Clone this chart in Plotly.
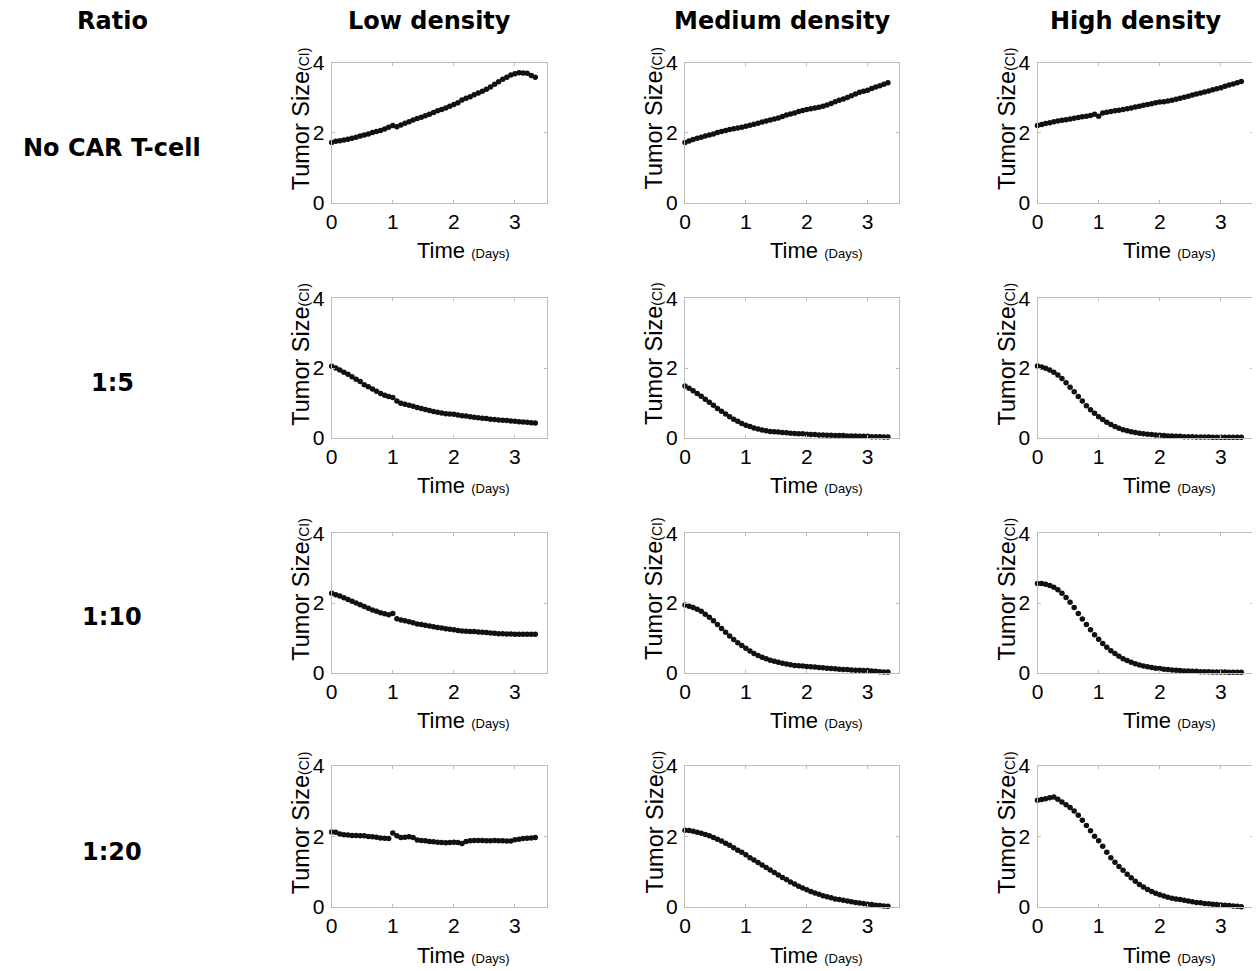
import plotly.graph_objects as go

# sampling times (days)
TIME_DAYS = [0.0, 0.067, 0.133, 0.2, 0.267, 0.333, 0.4, 0.467, 0.533, 0.6,
             0.667, 0.733, 0.8, 0.867, 0.933, 1.0, 1.067, 1.133, 1.2, 1.267,
             1.333, 1.4, 1.467, 1.533, 1.6, 1.667, 1.733, 1.8, 1.867, 1.933,
             2.0, 2.067, 2.133, 2.2, 2.267, 2.333, 2.4, 2.467, 2.533, 2.6,
             2.667, 2.733, 2.8, 2.867, 2.933, 3.0, 3.067, 3.133, 3.2, 3.267, 3.333]

DENSITIES = ["Low density", "Medium density", "High density"]
RATIOS = ["No CAR T-cell", "1:5", "1:10", "1:20"]

# tumor size (CI) per ratio / density
NO_CAR_LOW = [1.72, 1.75, 1.77, 1.79, 1.81, 1.84, 1.87, 1.90, 1.93, 1.96,
              2.00, 2.03, 2.06, 2.10, 2.15, 2.20, 2.17, 2.22, 2.27, 2.31,
              2.36, 2.40, 2.44, 2.48, 2.52, 2.57, 2.62, 2.66, 2.70, 2.75,
              2.80, 2.85, 2.93, 2.98, 3.02, 3.08, 3.13, 3.18, 3.24, 3.30,
              3.38, 3.45, 3.52, 3.58, 3.64, 3.68, 3.71, 3.70, 3.69, 3.63, 3.58]
NO_CAR_MED = [1.72, 1.76, 1.80, 1.84, 1.87, 1.90, 1.93, 1.96, 2.00, 2.03,
              2.06, 2.09, 2.11, 2.13, 2.15, 2.18, 2.21, 2.24, 2.27, 2.30,
              2.33, 2.36, 2.39, 2.42, 2.46, 2.50, 2.53, 2.56, 2.60, 2.63,
              2.66, 2.68, 2.70, 2.72, 2.75, 2.79, 2.83, 2.88, 2.92, 2.96,
              3.00, 3.05, 3.10, 3.15, 3.18, 3.21, 3.26, 3.30, 3.34, 3.38, 3.42]
NO_CAR_HIGH = [2.20, 2.23, 2.26, 2.28, 2.31, 2.33, 2.35, 2.37, 2.39, 2.41,
               2.43, 2.45, 2.47, 2.49, 2.52, 2.47, 2.56, 2.58, 2.60, 2.62,
               2.64, 2.66, 2.68, 2.70, 2.73, 2.75, 2.78, 2.80, 2.82, 2.85,
               2.87, 2.88, 2.90, 2.92, 2.95, 2.98, 3.01, 3.04, 3.07, 3.10,
               3.13, 3.16, 3.19, 3.22, 3.25, 3.28, 3.32, 3.36, 3.39, 3.42, 3.46]

R5_LOW = [2.05, 2.00, 1.94, 1.88, 1.82, 1.75, 1.68, 1.61, 1.52, 1.46,
          1.40, 1.33, 1.27, 1.22, 1.18, 1.15, 1.05, 0.99, 0.96, 0.93,
          0.90, 0.87, 0.84, 0.81, 0.78, 0.75, 0.73, 0.71, 0.69, 0.68,
          0.67, 0.65, 0.63, 0.62, 0.60, 0.59, 0.57, 0.56, 0.55, 0.53,
          0.52, 0.51, 0.50, 0.49, 0.48, 0.47, 0.46, 0.45, 0.44, 0.43, 0.42]
R5_MED = [1.48, 1.42, 1.35, 1.27, 1.19, 1.10, 1.02, 0.93, 0.84, 0.76,
          0.68, 0.60, 0.53, 0.47, 0.41, 0.36, 0.32, 0.28, 0.25, 0.22,
          0.20, 0.18, 0.17, 0.16, 0.15, 0.14, 0.13, 0.12, 0.11, 0.11,
          0.10, 0.09, 0.09, 0.08, 0.08, 0.07, 0.07, 0.06, 0.06, 0.06,
          0.05, 0.05, 0.05, 0.04, 0.04, 0.04, 0.03, 0.03, 0.03, 0.02, 0.02]
R5_HIGH = [2.06, 2.03, 1.99, 1.94, 1.88, 1.80, 1.70, 1.58, 1.45, 1.32,
           1.18, 1.05, 0.92, 0.80, 0.70, 0.60, 0.52, 0.44, 0.38, 0.32,
           0.27, 0.23, 0.20, 0.17, 0.15, 0.13, 0.11, 0.10, 0.09, 0.08,
           0.07, 0.06, 0.05, 0.05, 0.04, 0.04, 0.03, 0.03, 0.03, 0.02,
           0.02, 0.02, 0.02, 0.01, 0.01, 0.01, 0.01, 0.01, 0.01, 0.01, 0.01]

R10_LOW = [2.28, 2.24, 2.20, 2.15, 2.10, 2.05, 2.00, 1.95, 1.90, 1.85,
           1.80, 1.76, 1.72, 1.69, 1.66, 1.70, 1.55, 1.51, 1.49, 1.46,
           1.43, 1.40, 1.38, 1.36, 1.34, 1.32, 1.30, 1.28, 1.26, 1.25,
           1.23, 1.21, 1.20, 1.19, 1.18, 1.18, 1.17, 1.16, 1.15, 1.14,
           1.13, 1.12, 1.12, 1.11, 1.11, 1.10, 1.10, 1.10, 1.10, 1.10, 1.10]
R10_MED = [1.94, 1.91, 1.87, 1.82, 1.76, 1.68, 1.59, 1.49, 1.38, 1.27,
           1.16, 1.05, 0.95, 0.86, 0.78, 0.70, 0.62, 0.55, 0.49, 0.44,
           0.40, 0.36, 0.33, 0.30, 0.27, 0.25, 0.23, 0.21, 0.20, 0.19,
           0.18, 0.17, 0.16, 0.15, 0.14, 0.13, 0.12, 0.11, 0.10, 0.09,
           0.09, 0.08, 0.07, 0.07, 0.06, 0.06, 0.05, 0.04, 0.03, 0.02, 0.02]
R10_HIGH = [2.56, 2.56, 2.54, 2.50, 2.45, 2.38, 2.28, 2.16, 2.02, 1.87,
            1.70, 1.54, 1.38, 1.23, 1.09, 0.96, 0.84, 0.73, 0.63, 0.55,
            0.47, 0.40, 0.35, 0.30, 0.26, 0.22, 0.19, 0.17, 0.15, 0.13,
            0.12, 0.10, 0.09, 0.08, 0.07, 0.06, 0.05, 0.05, 0.04, 0.04,
            0.03, 0.03, 0.03, 0.02, 0.02, 0.02, 0.02, 0.01, 0.01, 0.01, 0.01]

R20_LOW = [2.13, 2.12, 2.07, 2.05, 2.04, 2.03, 2.03, 2.02, 2.02, 2.00,
           1.99, 1.98, 1.96, 1.95, 1.94, 2.10, 2.02, 1.97, 1.98, 1.99,
           1.97, 1.90, 1.89, 1.88, 1.86, 1.85, 1.84, 1.83, 1.82, 1.83,
           1.84, 1.83, 1.80, 1.86, 1.88, 1.89, 1.89, 1.89, 1.88, 1.88,
           1.89, 1.88, 1.88, 1.87, 1.87, 1.91, 1.92, 1.94, 1.95, 1.96, 1.97]
R20_MED = [2.18, 2.17, 2.15, 2.12, 2.09, 2.06, 2.02, 1.97, 1.92, 1.87,
           1.81, 1.75, 1.68, 1.61, 1.55, 1.48, 1.40, 1.33, 1.26, 1.19,
           1.12, 1.05, 0.98, 0.91, 0.84, 0.78, 0.71, 0.65, 0.59, 0.54,
           0.49, 0.44, 0.40, 0.36, 0.32, 0.29, 0.26, 0.23, 0.21, 0.19,
           0.17, 0.15, 0.13, 0.11, 0.10, 0.08, 0.07, 0.05, 0.04, 0.03, 0.02]
R20_HIGH = [3.03, 3.05, 3.07, 3.10, 3.12, 3.06, 2.98, 2.90, 2.82, 2.72,
            2.60, 2.46, 2.31, 2.16, 2.01, 1.88, 1.72, 1.55, 1.40, 1.27,
            1.15, 1.04, 0.93, 0.83, 0.73, 0.64, 0.57, 0.50, 0.44, 0.39,
            0.35, 0.31, 0.28, 0.25, 0.23, 0.21, 0.19, 0.17, 0.15, 0.13,
            0.12, 0.10, 0.09, 0.08, 0.07, 0.06, 0.05, 0.04, 0.03, 0.02, 0.01]

GRID = [
    [NO_CAR_LOW, NO_CAR_MED, NO_CAR_HIGH],
    [R5_LOW, R5_MED, R5_HIGH],
    [R10_LOW, R10_MED, R10_HIGH],
    [R20_LOW, R20_MED, R20_HIGH],
]

# the page body adds an 8px margin, so the paper is 8px smaller each way
PAGE_PAD = 8
W, H = 1260 - PAGE_PAD, 971 - PAGE_PAD
COL_PX = [(331.7, 546.7), (685.0, 899.3), (1037.5, 1252.7)]
ROW_PX = [(62.5, 202.7), (298.3, 437.7), (533.3, 672.7), (766.0, 907.0)]
FRAME = "#bdbdbd"
INK = "#000000"
AXIS_FONT = "Liberation Sans, Arial, sans-serif"
HEAD_FONT = "DejaVu Sans, sans-serif"


def px_x(v):
    return (v - PAGE_PAD) / W


def px_y(v):
    return 1 - (v - PAGE_PAD) / H


fig = go.Figure()
annotations = []
layout_axes = {}

for r, row in enumerate(GRID):
    top, bottom = ROW_PX[r]
    for c, values in enumerate(row):
        left, right = COL_PX[c]
        k = r * 3 + c + 1
        sfx = "" if k == 1 else str(k)
        fig.add_trace(go.Scatter(
            x=TIME_DAYS, y=values, mode="markers",
            marker=dict(color="#111111", size=5.5),
            cliponaxis=False, showlegend=False,
            xaxis="x" + sfx, yaxis="y" + sfx,
        ))
        common = dict(
            showline=True, linecolor=FRAME, linewidth=1, mirror="ticks",
            ticks="inside", ticklen=3, tickcolor=FRAME,
            showgrid=False, zeroline=False, fixedrange=True, automargin=False,
            tickfont=dict(family=AXIS_FONT, size=21, color=INK),
        )
        layout_axes["xaxis" + sfx] = dict(
            common, domain=[px_x(left), px_x(right)], range=[0, 3.52],
            tickvals=[0, 1, 2, 3], anchor="y" + sfx, ticklabelstandoff=0,
        )
        layout_axes["yaxis" + sfx] = dict(
            common, domain=[px_y(bottom), px_y(top)], range=[0, 4],
            tickvals=[0, 2, 4], anchor="x" + sfx, ticklabelstandoff=2,
        )
        # axis titles
        annotations.append(dict(
            text='Tumor Size<span style="font-size:14px">(CI)</span>',
            x=px_x(left - 31), y=px_y((top + bottom) / 2 - 14),
            xref="paper", yref="paper", showarrow=False, textangle=-90,
            xanchor="center", yanchor="middle",
            font=dict(family=AXIS_FONT, size=23.5, color=INK),
        ))
        annotations.append(dict(
            text='Time <span style="font-size:13px">(Days)</span>',
            x=px_x((left + right) / 2 + 24), y=px_y(bottom + 48),
            xref="paper", yref="paper", showarrow=False,
            xanchor="center", yanchor="middle",
            font=dict(family=AXIS_FONT, size=22, color=INK),
        ))

# column and row headers
HEAD_X = [429, 782, 1135]
for name, x in zip(DENSITIES, HEAD_X):
    annotations.append(dict(
        text="<b>%s</b>" % name, x=px_x(x), y=px_y(21),
        xref="paper", yref="paper", showarrow=False,
        xanchor="center", yanchor="middle",
        font=dict(family=HEAD_FONT, size=24, color=INK),
    ))

ROW_LABEL_Y = [148, 383, 617, 852]
annotations.append(dict(
    text="<b>Ratio</b>", x=px_x(112), y=px_y(21),
    xref="paper", yref="paper", showarrow=False,
    xanchor="center", yanchor="middle",
    font=dict(family=HEAD_FONT, size=24, color=INK),
))
for name, y in zip(RATIOS, ROW_LABEL_Y):
    annotations.append(dict(
        text="<b>%s</b>" % name, x=px_x(112), y=px_y(y),
        xref="paper", yref="paper", showarrow=False,
        xanchor="center", yanchor="middle",
        font=dict(family=HEAD_FONT, size=24, color=INK),
    ))

fig.update_layout(
    width=W, height=H,
    margin=dict(l=0, r=0, t=0, b=0, autoexpand=False),
    paper_bgcolor="white", plot_bgcolor="white",
    annotations=annotations,
    **layout_axes,
)

fig.write_html("out.html")
